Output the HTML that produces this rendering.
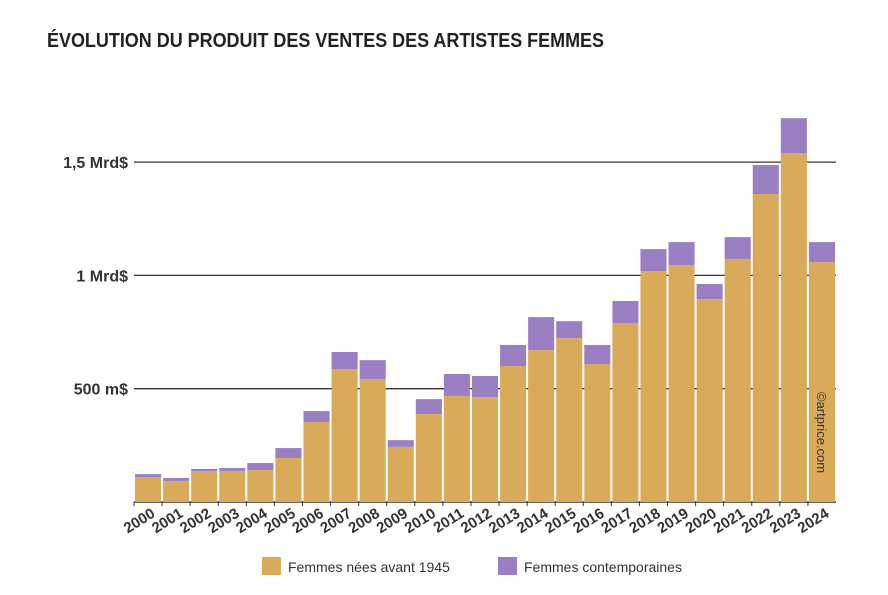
<!DOCTYPE html>
<html><head><meta charset="utf-8"><style>
body{margin:0;background:#fff;font-family:"Liberation Sans",sans-serif}
svg{display:block}
</style></head><body>
<svg id="chart" width="888" height="595" xmlns="http://www.w3.org/2000/svg">
<text x="47" y="47" font-size="20" font-weight="bold" fill="#222" textLength="557" lengthAdjust="spacingAndGlyphs">ÉVOLUTION DU PRODUIT DES VENTES DES ARTISTES FEMMES</text>
<g id="grid"></g><g id="bars"></g><g id="xlabels"></g>
<text transform="translate(817,392) rotate(90)" font-size="13" fill="#333">©artprice.com</text>
<g>
<rect x="262" y="557" width="19" height="18" fill="#d9aa5a"/>
<text x="288" y="572" font-size="14" fill="#333">Femmes nées avant 1945</text>
<rect x="498" y="557" width="19" height="18" fill="#9a80c2"/>
<text x="524" y="572" font-size="14" fill="#333">Femmes contemporaines</text>
</g>
</svg>
<script>
const years=["2000","2001","2002","2003","2004","2005","2006","2007","2008","2009","2010","2011","2012","2013","2014","2015","2016","2017","2018","2019","2020","2021","2022","2023","2024"];
const before1945=[110,93,137,137,141,194,353,587,543,243,388,468,463,600,670,723,609,790,1019,1045,895,1072,1359,1539,1059];
const contemporary=[13,13,9,13,31,44,48,75,83,30,66,97,93,93,146,75,84,97,97,102,67,97,128,155,88];
const tickValues=[500,1000,1500];
const tickLabels=["500 m$","1 Mrd$","1,5 Mrd$"];
const NS="http://www.w3.org/2000/svg";
const x0=134,x1=836,y0=502,k=113.3/500;
const bw=(x1-x0)/years.length;
const y=v=>y0-v*k;
function mk(tag,attrs,parent){const e=document.createElementNS(NS,tag);for(const a in attrs)e.setAttribute(a,attrs[a]);parent.appendChild(e);return e;}
const grid=document.getElementById('grid'),bars=document.getElementById('bars'),xl=document.getElementById('xlabels');
tickValues.forEach((v,i)=>{
 const l=mk('line',{x1:x0,x2:x1,y1:y(v),y2:y(v),stroke:'#333','stroke-width':1.3},grid);
 
 
 const t=mk('text',{x:128,y:y(v)+6,'text-anchor':'end','font-size':16,'font-weight':'bold',fill:'#333'},grid);
 t.textContent=tickLabels[i];
 
 
});
years.forEach((yr,i)=>{
 const bx=x0+i*bw+1,w=bw-2;
 const a=mk('rect',{x:bx,y:y(before1945[i]),width:w,height:before1945[i]*k,fill:'#d9aa5a'},bars);
 
 
 const tot=before1945[i]+contemporary[i];
 const b=mk('rect',{x:bx,y:y(tot),width:w,height:contemporary[i]*k,fill:'#9a80c2'},bars);
 
 
 const cx=x0+(i+0.5)*bw;
 const tk=mk('line',{x1:x0+i*bw,x2:x0+i*bw,y1:y0,y2:y0+4,stroke:'#333'},xl);
 
 
 const t=mk('text',{transform:`translate(${cx+8},${y0+14}) rotate(-32)`,'text-anchor':'end','font-size':15,'font-weight':'bold',fill:'#333'},xl);
 t.textContent=yr;
 
 
});
const ax=mk('line',{x1:x0,x2:x1,y1:y0,y2:y0,stroke:'#333','stroke-width':1.5},grid);


</script>
</body></html>
